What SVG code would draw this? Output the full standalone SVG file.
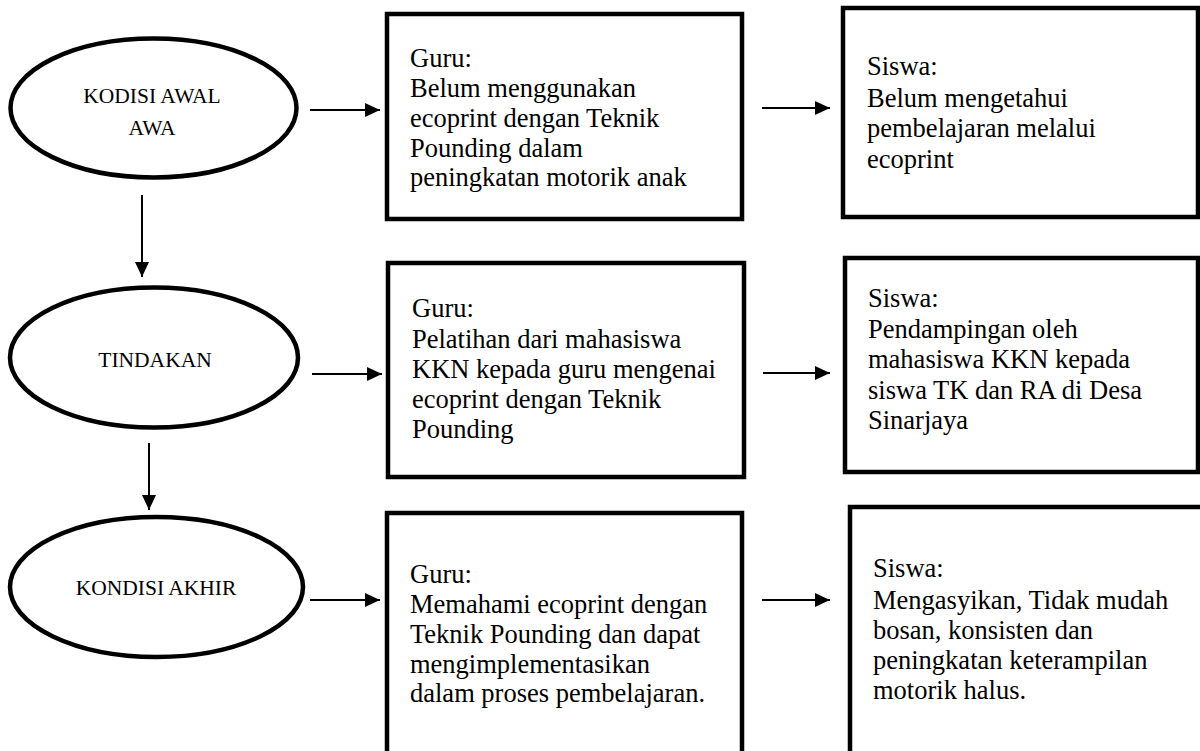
<svg xmlns="http://www.w3.org/2000/svg" width="1200" height="751" viewBox="0 0 1200 751">
<style>
.shape{fill:#fff;stroke:#000;stroke-width:4.5}
.lbl{font-family:"Liberation Serif","Times New Roman",serif;font-size:21.5px;fill:#000}
.txt{font-family:"Liberation Serif","Times New Roman",serif;font-size:26.5px;fill:#000}
.con{stroke:#000;stroke-width:2;fill:none}
</style>
<defs>
<marker id="ah" markerUnits="userSpaceOnUse" markerWidth="16" markerHeight="14" refX="15" refY="7" orient="auto">
<path d="M0,0 L15,7 L0,14 Z" fill="#000"/>
</marker>
</defs>
<rect width="1200" height="751" fill="#fff"/>
<g id="connectors">
<line class="con" x1="310" y1="110" x2="380" y2="110" marker-end="url(#ah)"/>
<line class="con" x1="762" y1="108" x2="830" y2="108" marker-end="url(#ah)"/>
<line class="con" x1="312" y1="374" x2="382" y2="374" marker-end="url(#ah)"/>
<line class="con" x1="763" y1="373" x2="830" y2="373" marker-end="url(#ah)"/>
<line class="con" x1="310" y1="600" x2="380" y2="600" marker-end="url(#ah)"/>
<line class="con" x1="762" y1="600" x2="830" y2="600" marker-end="url(#ah)"/>
<line class="con" x1="142" y1="195" x2="142" y2="277" marker-end="url(#ah)"/>
<line class="con" x1="149" y1="443" x2="149" y2="510" marker-end="url(#ah)"/>
</g>
<g id="kondisi-awal">
<ellipse class="shape" cx="153.5" cy="108" rx="143" ry="69.5"/>
<text class="lbl" x="152" y="103" text-anchor="middle">KODISI AWAL</text>
<text class="lbl" x="152" y="135" text-anchor="middle">AWA</text>
</g>
<g id="tindakan">
<ellipse class="shape" cx="154" cy="357.5" rx="144" ry="70"/>
<text class="lbl" x="155" y="367" text-anchor="middle">TINDAKAN</text>
</g>
<g id="kondisi-akhir">
<ellipse class="shape" cx="156.5" cy="587" rx="146.5" ry="70"/>
<text class="lbl" x="156" y="595" text-anchor="middle">KONDISI AKHIR</text>
</g>
<g id="guru-awal">
<rect class="shape" x="387" y="14" width="355" height="205"/>
<text class="txt" x="410" y="67">Guru:</text>
<text class="txt" x="410" y="97">Belum menggunakan</text>
<text class="txt" x="410" y="127">ecoprint dengan Teknik</text>
<text class="txt" x="410" y="157">Pounding dalam</text>
<text class="txt" x="410" y="186">peningkatan motorik anak</text>
</g>
<g id="siswa-awal">
<rect class="shape" x="843" y="8" width="355" height="209"/>
<text class="txt" x="867" y="75">Siswa:</text>
<text class="txt" x="867" y="107">Belum mengetahui</text>
<text class="txt" x="867" y="137">pembelajaran melalui</text>
<text class="txt" x="867" y="168">ecoprint</text>
</g>
<g id="guru-tindakan">
<rect class="shape" x="388" y="263" width="356" height="214"/>
<text class="txt" x="412" y="317">Guru:</text>
<text class="txt" x="412" y="348">Pelatihan dari mahasiswa</text>
<text class="txt" x="412" y="378">KKN kepada guru mengenai</text>
<text class="txt" x="412" y="408">ecoprint dengan Teknik</text>
<text class="txt" x="412" y="438">Pounding</text>
</g>
<g id="siswa-tindakan">
<rect class="shape" x="845" y="258" width="353" height="214"/>
<text class="txt" x="868" y="307">Siswa:</text>
<text class="txt" x="868" y="338">Pendampingan oleh</text>
<text class="txt" x="868" y="368">mahasiswa KKN kepada</text>
<text class="txt" x="868" y="399">siswa TK dan RA di Desa</text>
<text class="txt" x="868" y="429">Sinarjaya</text>
</g>
<g id="guru-akhir">
<rect class="shape" x="387" y="513" width="355" height="260"/>
<text class="txt" x="410" y="583">Guru:</text>
<text class="txt" x="410" y="613">Memahami ecoprint dengan</text>
<text class="txt" x="410" y="643">Teknik Pounding dan dapat</text>
<text class="txt" x="410" y="673">mengimplementasikan</text>
<text class="txt" x="410" y="702">dalam proses pembelajaran.</text>
</g>
<g id="siswa-akhir">
<rect class="shape" x="850" y="507" width="370" height="270"/>
<text class="txt" x="873" y="577">Siswa:</text>
<text class="txt" x="873" y="609">Mengasyikan, Tidak mudah</text>
<text class="txt" x="873" y="639">bosan, konsisten dan</text>
<text class="txt" x="873" y="669">peningkatan keterampilan</text>
<text class="txt" x="873" y="699">motorik halus.</text>
</g>
</svg>
